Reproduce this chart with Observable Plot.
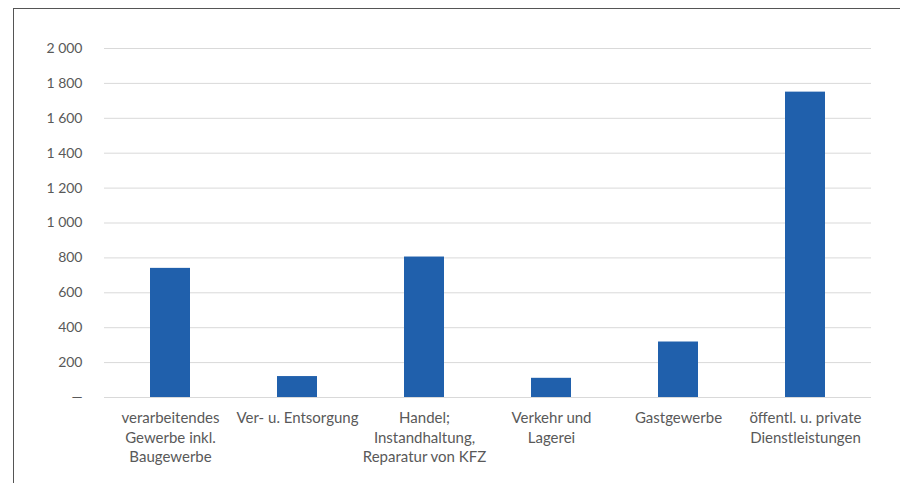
<!DOCTYPE html>
<html>
<head>
<meta charset="utf-8">
<script src="https://cdn.jsdelivr.net/npm/d3@7"></script>
<script src="https://cdn.jsdelivr.net/npm/@observablehq/plot@0.6"></script>
<style>
  html, body { margin: 0; padding: 0; background: #fff; }
  #wrap { position: relative; width: 900px; height: 483px; overflow: hidden; }
  #frame { position: absolute; left: 13px; top: 8px; right: -5px; bottom: -5px;
           border-left: 1.5px solid #555; border-top: 1.5px solid #555; pointer-events: none; }
  svg { font-family: Lato, "Noto Sans", sans-serif; }
</style>
</head>
<body>
<div id="wrap"><div id="frame"></div></div>
<script>
const categories = [
  "verarbeitendes\nGewerbe inkl.\nBaugewerbe",
  "Ver- u. Entsorgung",
  "Handel;\nInstandhaltung,\nReparatur von KFZ",
  "Verkehr und\nLagerei",
  "Gastgewerbe",
  "öffentl. u. private\nDienstleistungen"
];
const values = [740, 120, 805, 110, 318, 1750];
const yTicks = [0, 200, 400, 600, 800, 1000, 1200, 1400, 1600, 1800, 2000];

const data = categories.map((c, i) => ({category: c, value: values[i]}));
const fmt = d => d === 0 ? "—" : d3.format(",")(d).replace(/,/g, " ");

const chart = Plot.plot({
  width: 900,
  height: 483,
  marginLeft: 104,
  marginRight: 29,
  marginTop: 48,
  marginBottom: 86,
  style: {fontFamily: "Lato, 'Noto Sans', sans-serif", fontSize: "14px", color: "#595959", background: "transparent"},
  x: {domain: categories, paddingInner: 0.687, paddingOuter: 0.3435, label: null},
  y: {domain: [0, 2000], label: null},
  marks: [
    Plot.gridY(yTicks, {stroke: "#d9d9d9", strokeOpacity: 1, strokeWidth: 1}),
    Plot.barY(data, {x: "category", y: "value", fill: "#2060ac"}),
    Plot.axisY(yTicks, {tickSize: 0, tickPadding: 22, tickFormat: fmt, fill: "#595959", fontSize: 14}),
    Plot.axisX({tickSize: 0, tickPadding: 12, fill: "#595959", fontSize: 15, lineHeight: 1.3}),
  ]
});
document.getElementById("wrap").prepend(chart);
</script>
</body>
</html>
